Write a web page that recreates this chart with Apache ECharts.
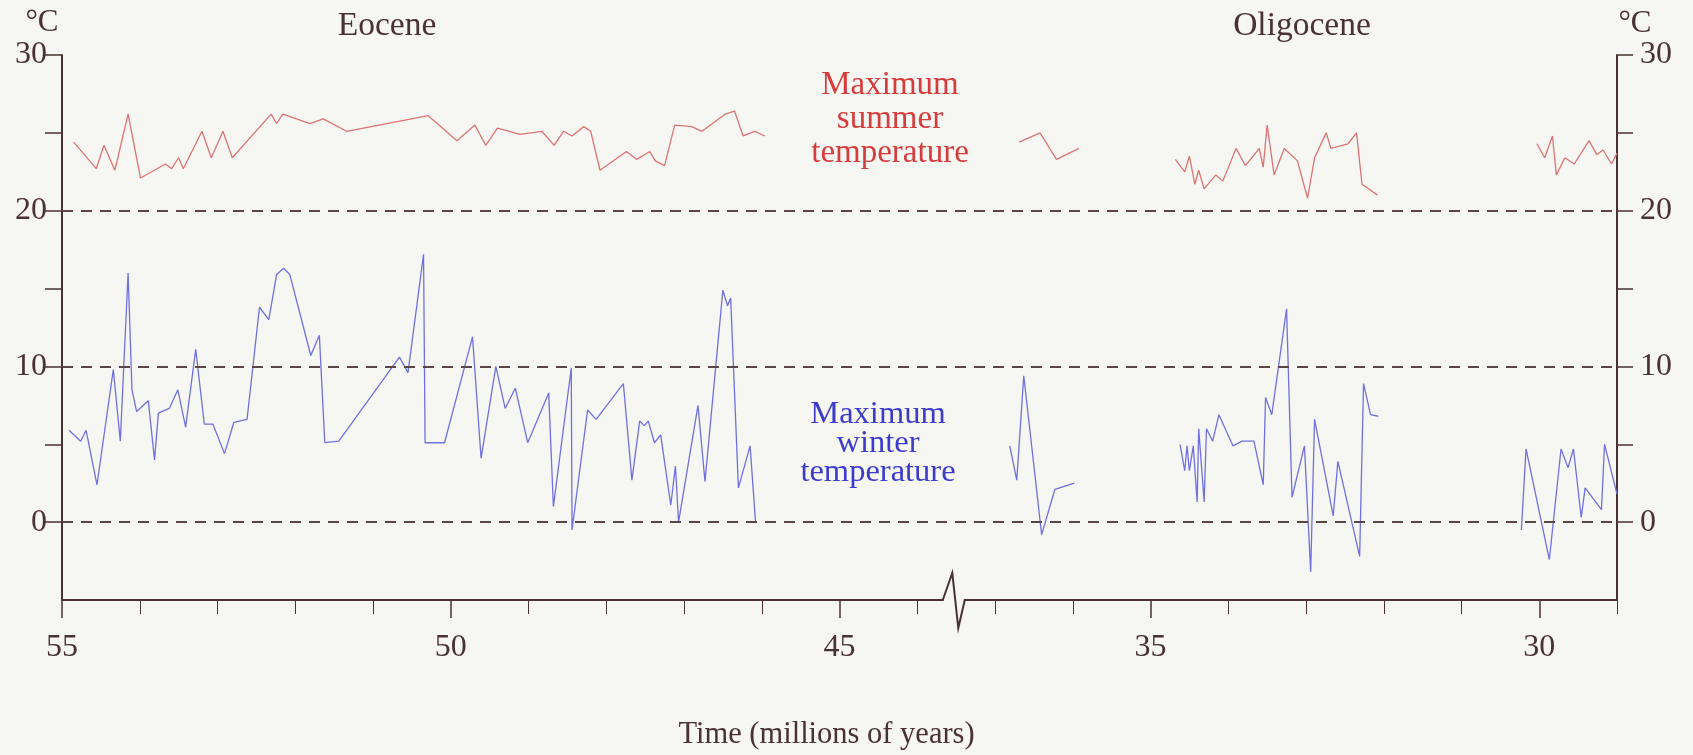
<!DOCTYPE html>
<html>
<head>
<meta charset="utf-8">
<title>Eocene - Oligocene temperatures</title>
<script src="https://cdn.jsdelivr.net/npm/echarts@6/dist/echarts.min.js"></script>
<style>
  html, body { margin: 0; padding: 0; background: #f6f6f2; }
  #chart { width: 1693px; height: 755px; }
</style>
</head>
<body>
<div id="chart"></div>
<script>
// time in millions of years (null = gap in the record)
var summerTime = [54.85, 54.56, 54.46, 54.32, 54.15, 53.99, 53.67, 53.59, 53.50, 53.44, 53.20, 53.08, 52.93, 52.81,
  52.31, 52.24, 52.16, 51.81, 51.64, 51.34, 50.29, 49.92, 49.69, 49.55, 49.40, 49.11, 48.83, 48.67, 48.55, 48.44,
  48.29, 48.20, 48.08, 47.74, 47.61, 47.44, 47.37, 47.25, 47.12, 46.90, 46.77, 46.47, 46.35, 46.24, 46.09, 45.96,
  null,
  36.69, 36.42, 36.21, 35.92,
  null,
  34.68, 34.56, 34.50, 34.43, 34.38, 34.31, 34.16, 34.07, 33.90, 33.78, 33.60, 33.55, 33.50, 33.41, 33.28, 33.11,
  32.98, 32.89, 32.74, 32.68, 32.46, 32.35, 32.28, 32.08,
  null,
  30.03, 29.93, 29.83, 29.78, 29.67, 29.55, 29.36, 29.26, 29.18, 29.07, 29.0];
var summerTemp = [24.4, 22.7, 24.2, 22.6, 26.2, 22.1, 23.0, 22.7, 23.4, 22.7, 25.1, 23.4, 25.1, 23.4,
  26.2, 25.6, 26.2, 25.6, 25.9, 25.1, 26.1, 24.5, 25.5, 24.2, 25.3, 24.9, 25.1, 24.2, 25.1, 24.8,
  25.4, 25.1, 22.6, 23.8, 23.3, 23.8, 23.2, 22.9, 25.5, 25.4, 25.1, 26.2, 26.4, 24.8, 25.1, 24.8,
  null,
  24.4, 25.0, 23.3, 24.0,
  null,
  23.3, 22.5, 23.5, 21.7, 22.6, 21.4, 22.3, 21.9, 24.0, 22.9, 24.0, 22.8, 25.5, 22.3, 24.0, 23.2,
  20.8, 23.4, 25.0, 24.0, 24.3, 25.0, 21.7, 21.0,
  null,
  24.3, 23.4, 24.8, 22.3, 23.4, 23.0, 24.5, 23.6, 23.9, 23.0, 23.7];

var winterTime = [54.91, 54.76, 54.69, 54.55, 54.34, 54.25, 54.15, 54.10, 54.04, 53.89, 53.81, 53.76, 53.62, 53.51,
  53.41, 53.28, 53.17, 53.06, 52.91, 52.79, 52.62, 52.46, 52.34, 52.24, 52.15, 52.07, 51.80, 51.69, 51.62, 51.44,
  50.66, 50.55, 50.35, 50.33, 50.08, 49.72, 49.61, 49.42, 49.30, 49.17, 49.01, 48.74, 48.68, 48.45, 48.44, 48.24,
  48.13, 47.78, 47.67, 47.57, 47.51, 47.46, 47.38, 47.30, 47.17, 47.11, 47.07, 46.82, 46.73, 46.50, 46.44, 46.40,
  46.30, 46.15, 46.08,
  null,
  36.81, 36.72, 36.63, 36.40, 36.23, 35.98,
  null,
  34.62, 34.56, 34.53, 34.50, 34.45, 34.40, 34.38, 34.31, 34.28, 34.20, 34.12, 33.94, 33.82, 33.67, 33.55, 33.52,
  33.44, 33.25, 33.18, 33.02, 32.94, 32.89, 32.65, 32.59, 32.31, 32.26, 32.17, 32.07,
  null,
  30.23, 30.17, 29.87, 29.72, 29.63, 29.56, 29.46, 29.41, 29.20, 29.16, 29.0];
var winterTemp = [5.9, 5.2, 5.9, 2.4, 9.8, 5.2, 16.0, 8.5, 7.1, 7.8, 4.0, 7.0, 7.3, 8.5,
  6.1, 11.1, 6.3, 6.3, 4.4, 6.4, 6.6, 13.8, 13.0, 15.9, 16.3, 15.9, 10.7, 12.0, 5.1, 5.2,
  10.6, 9.6, 17.2, 5.1, 5.1, 11.9, 4.1, 10.0, 7.3, 8.6, 5.1, 8.3, 1.0, 9.9, -0.5, 7.2,
  6.6, 8.9, 2.7, 6.5, 6.2, 6.5, 5.1, 5.6, 1.1, 3.6, 0.0, 7.5, 2.6, 14.9, 13.9, 14.4,
  2.2, 4.9, 0.0,
  null,
  4.9, 2.7, 9.4, -0.8, 2.1, 2.5,
  null,
  5.0, 3.3, 4.9, 3.3, 4.9, 1.3, 6.0, 1.3, 6.0, 5.2, 6.9, 4.9, 5.2, 5.2, 2.4, 8.0,
  6.9, 13.7, 1.6, 4.9, -3.2, 6.6, 0.4, 3.9, -2.2, 8.9, 6.9, 6.8,
  null,
  -0.5, 4.7, -2.4, 4.7, 3.5, 4.7, 0.3, 2.2, 0.8, 5.0, 1.8];

// axis ticks (millions of years) and reference temperatures
var timeLabels = [55, 50, 45, 35, 30];
var timeTicks = [54, 53, 52, 51, 49, 48, 47, 46, 44, 37, 36, 34, 33, 32, 31, 29];
var tempLabels = [0, 10, 20, 30];
var tempTicks = [0, 5, 10, 15, 20, 25, 30];
var dashedTemps = [0, 10, 20];

(function () {
  var ink = "#4a3232";
  var serif = "Liberation Serif";

  // broken time axis: 44 -> 37 Myr is squeezed into one unit
  function toAxis(t) {
    return t > 40 ? 55 - t : 49 - t;
  }
  function fromAxis(v) {
    return v <= 11.5 ? 55 - v : 49 - v;
  }
  function pairs(times, temps) {
    return times.map(function (t, i) {
      return t === null ? [null, null] : [toAxis(t), temps[i]];
    });
  }

  var myChart = echarts.init(document.getElementById("chart"));

  var option = {
    animation: false,
    backgroundColor: "#f6f6f2",
    grid: { left: 62, right: 76, top: 55, bottom: 155 },
    xAxis: [
      {
        type: "value",
        min: 0,
        max: 20,
        interval: 1,
        name: "Time (millions of years)",
        nameLocation: "middle",
        nameGap: 119,
        nameTextStyle: { fontFamily: serif, fontSize: 30.5, color: ink, padding: [0, 26, 0, 0] },
        axisLine: { show: true, onZero: false, lineStyle: { color: ink, width: 2 } },
        axisTick: { show: true, length: 18, lineStyle: { color: ink, width: 1.5 },
          customValues: timeLabels.map(toAxis) },
        axisLabel: {
          customValues: timeLabels.map(toAxis),
          formatter: function (v) { return String(fromAxis(v)); },
          fontFamily: serif, fontSize: 32, color: ink, margin: 32
        },
        splitLine: { show: false }
      },
      {
        type: "value",
        min: 0,
        max: 20,
        interval: 1,
        position: "bottom",
        axisLine: { show: false, onZero: false },
        axisTick: { show: true, length: 14, lineStyle: { color: ink, width: 1 },
          customValues: timeTicks.map(toAxis) },
        axisLabel: { show: false },
        splitLine: { show: false }
      }
    ],
    yAxis: [
      {
        type: "value",
        min: -5,
        max: 30,
        interval: 5,
        position: "left",
        name: "°C",
        nameLocation: "end",
        nameGap: 17,
        nameTextStyle: { fontFamily: serif, fontSize: 31, color: ink, padding: [0, 40, 0, 0] },
        axisLine: { show: true, onZero: false, lineStyle: { color: ink, width: 2 } },
        axisTick: { show: true, length: 17, lineStyle: { color: ink, width: 1.5 }, customValues: tempTicks },
        axisLabel: { customValues: tempLabels, fontFamily: serif, fontSize: 32, color: ink, margin: 15 },
        splitLine: { show: false }
      },
      {
        type: "value",
        min: -5,
        max: 30,
        interval: 5,
        position: "right",
        name: "°C",
        nameLocation: "end",
        nameGap: 13,
        nameTextStyle: { fontFamily: serif, fontSize: 31, color: ink, padding: [0, 0, 0, 36] },
        axisLine: { show: true, onZero: false, lineStyle: { color: ink, width: 2 } },
        axisTick: { show: true, length: 16, lineStyle: { color: ink, width: 1.5 }, customValues: tempTicks },
        axisLabel: { customValues: tempLabels, fontFamily: serif, fontSize: 32, color: ink, margin: 23 },
        splitLine: { show: false }
      }
    ],
    series: [
      {
        name: "Maximum summer temperature",
        type: "line",
        data: pairs(summerTime, summerTemp),
        showSymbol: false,
        lineStyle: { color: "#dc7474", width: 1.3 },
        markLine: {
          silent: true,
          symbol: "none",
          label: { show: false },
          lineStyle: { color: "#5a4646", width: 2, type: [11, 8] },
          data: dashedTemps.map(function (v) { return { yAxis: v }; })
        }
      },
      {
        name: "Maximum winter temperature",
        type: "line",
        data: pairs(winterTime, winterTemp),
        showSymbol: false,
        lineStyle: { color: "#7070e0", width: 1.3 }
      }
    ]
  };
  myChart.setOption(option);

  // epoch names, series captions and the zigzag break on the time axis
  var base = myChart.convertToPixel({ xAxisIndex: 0, yAxisIndex: 0 }, [11.47, -5]);
  var bx = base[0], by = base[1];
  function caption(text, x, y, color, size, lh) {
    return {
      type: "text", x: x, y: y, z: 100,
      style: { text: text, font: size + "px 'Liberation Serif'", fill: color, lineHeight: lh,
        align: "center", verticalAlign: "middle" }
    };
  }
  myChart.setOption({
    graphic: [
      caption("Eocene", 387, 26, ink, 33.5, 34),
      caption("Oligocene", 1302, 26, ink, 33.5, 34),
      caption("Maximum\nsummer\ntemperature", 890, 119, "#d63c3c", 33, 34),
      caption("Maximum\nwinter\ntemperature", 878, 443, "#3c3ccc", 32.5, 29),
      {
        type: "rect", z: 100,
        shape: { x: bx - 10, y: by - 3, width: 20, height: 6 },
        style: { fill: "#f6f6f2" }
      },
      {
        type: "polyline", z: 101,
        shape: { points: [[bx - 11, by], [bx - 1.5, by - 27], [bx + 4.5, by + 28], [bx + 11, by]] },
        style: { stroke: ink, lineWidth: 2, fill: null }
      }
    ]
  });
})();
</script>
</body>
</html>
